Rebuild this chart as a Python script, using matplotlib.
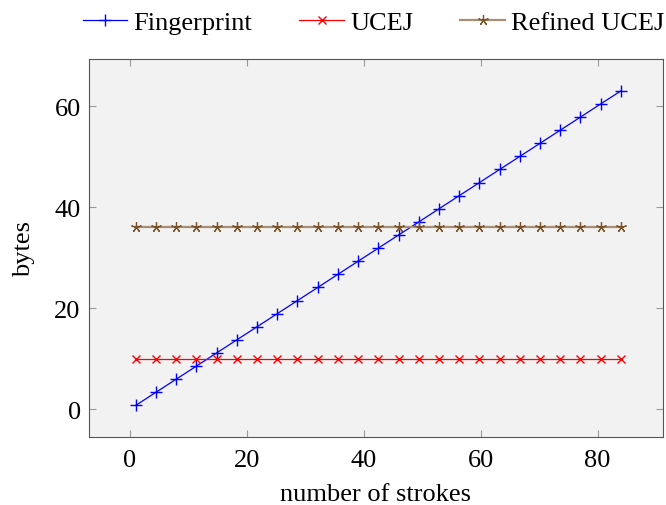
import numpy as np
import matplotlib.pyplot as plt

plt.rcParams['font.family'] = ['Liberation Serif', 'DejaVu Serif']

# number of strokes (25 samples between 1 and 84)
strokes = [1.0, 4.46, 7.92, 11.38, 14.83, 18.29, 21.75, 25.21, 28.67, 32.13,
           35.58, 39.04, 42.5, 45.96, 49.42, 52.88, 56.33, 59.79, 63.25,
           66.71, 70.17, 73.63, 77.08, 80.54, 84.0]
fingerprint = [0.75, 3.35, 5.94, 8.53, 11.13, 13.72, 16.31, 18.91, 21.5, 24.09,
               26.69, 29.28, 31.88, 34.47, 37.06, 39.66, 42.25, 44.84, 47.44,
               50.03, 52.63, 55.22, 57.81, 60.41, 63.0]
ucej = [10] * len(strokes)
refined_ucej = [36] * len(strokes)

fig = plt.figure(figsize=(6.66, 5.06), dpi=100)
ax = fig.add_axes([0.1336, 0.1344, 0.8619, 0.747])
ax.set_facecolor('#f2f2f2')

ax.plot(strokes, fingerprint, color='#0000ff', marker='+', markersize=9,
        markeredgewidth=1.0, linewidth=0.9, label='Fingerprint')
ax.plot(strokes, ucej, color='#ff0000', marker='x', markersize=6,
        markeredgewidth=1.0, linewidth=0.9, label='UCEJ')
ax.plot(strokes, refined_ucej, color='#a88e72', marker=(5, 2, 0), markersize=7.5,
        markeredgecolor='#7a5228', markeredgewidth=0.9, linewidth=1.6,
        label='Refined UCEJ')

ax.set_xlim(-7, 91.2)
ax.set_ylim(-5.5, 69.3)
ax.set_xticks([0, 20, 40, 60, 80])
ax.set_yticks([0, 20, 40, 60])
ax.tick_params(direction='in', length=5, width=0.8, color='#999999',
               labelsize=19, top=True, right=True)
ax.tick_params(axis='x', pad=9)
ax.tick_params(axis='y', pad=6)
for s in ax.spines.values():
    s.set_color('#555555')
    s.set_linewidth(0.8)

ax.set_xlabel('number of strokes', fontsize=19, labelpad=8)
ax.set_ylabel('bytes', fontsize=19, labelpad=14)

ax.legend(loc='lower center', bbox_to_anchor=(0.4956, 1.0), ncol=3, frameon=False,
          fontsize=19, handlelength=1.7, columnspacing=1.78, handletextpad=0.23,
          borderaxespad=0.53)

fig.savefig('out.png', dpi=100)
